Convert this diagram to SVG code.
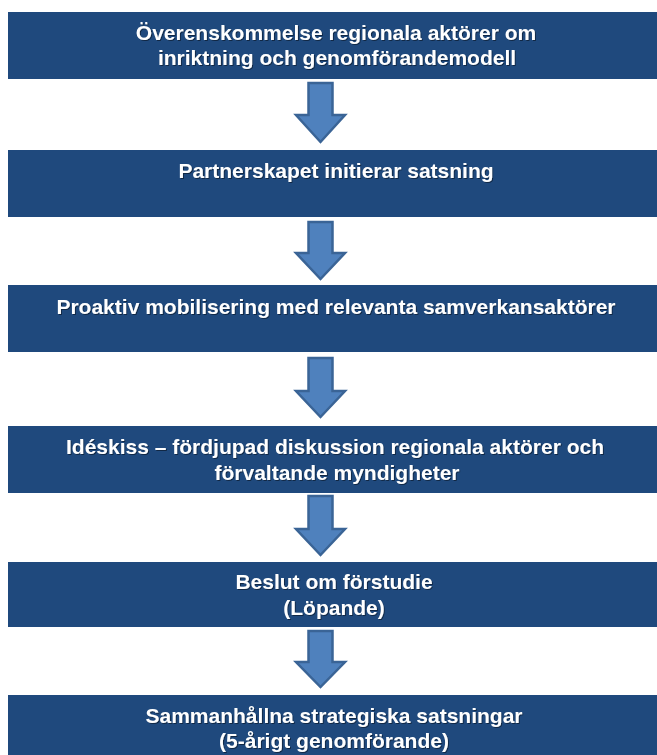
<svg xmlns="http://www.w3.org/2000/svg" width="657" height="755" viewBox="0 0 657 755">
<style>
.box{fill:#1F497D}
.t{font-family:"Liberation Sans",Arial,sans-serif;font-weight:bold;font-size:21px;fill:#FFFFFF;text-anchor:middle;filter:url(#sh)}
.arr{fill:#4F81BD;stroke:#3A6496;stroke-width:2.5;stroke-linejoin:miter}
</style>
<defs>
<filter id="sh" x="-5%" y="-20%" width="110%" height="140%">
<feDropShadow dx="1" dy="1" stdDeviation="0.6" flood-color="#000000" flood-opacity="0.45"/>
</filter>
</defs>
<rect width="657" height="755" fill="#FFFFFF"/>
<g id="connectors">
<path class="arr" d="M308.5,83 L332.5,83 L332.5,115 L345,115 L320.5,142 L296,115 L308.5,115 Z"/>
<path class="arr" d="M308.5,222 L332.5,222 L332.5,253 L345,253 L320.5,279 L296,253 L308.5,253 Z"/>
<path class="arr" d="M308.5,358 L332.5,358 L332.5,391 L345,391 L320.5,417 L296,391 L308.5,391 Z"/>
<path class="arr" d="M308.5,496 L332.5,496 L332.5,529 L345,529 L320.5,555 L296,529 L308.5,529 Z"/>
<path class="arr" d="M308.5,631 L332.5,631 L332.5,662 L345,662 L320.5,687 L296,662 L308.5,662 Z"/>
</g>
<g id="node1">
<rect class="box" x="8" y="12" width="657" height="67"/>
<text class="t" x="336" y="39.5">Överenskommelse regionala aktörer om</text>
<text class="t" x="337" y="65">inriktning och genomförandemodell</text>
</g>
<g id="node2">
<rect class="box" x="8" y="150" width="657" height="67"/>
<text class="t" x="336" y="178">Partnerskapet initierar satsning</text>
</g>
<g id="node3">
<rect class="box" x="8" y="285" width="657" height="67"/>
<text class="t" x="336" y="314">Proaktiv mobilisering med relevanta samverkansaktörer</text>
</g>
<g id="node4">
<rect class="box" x="8" y="426" width="657" height="67"/>
<text class="t" x="335" y="454">Idéskiss – fördjupad diskussion regionala aktörer och</text>
<text class="t" x="337" y="480">förvaltande myndigheter</text>
</g>
<g id="node5">
<rect class="box" x="8" y="562" width="657" height="65"/>
<text class="t" x="334" y="589">Beslut om förstudie</text>
<text class="t" x="334" y="615">(Löpande)</text>
</g>
<g id="node6">
<rect class="box" x="8" y="695" width="657" height="70"/>
<text class="t" x="334" y="723">Sammanhållna strategiska satsningar</text>
<text class="t" x="334" y="748">(5-årigt genomförande)</text>
</g>
</svg>
